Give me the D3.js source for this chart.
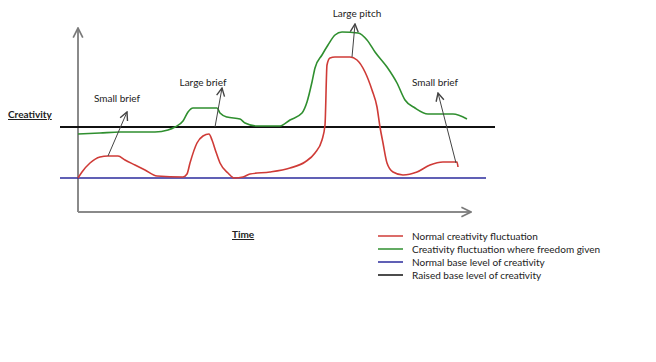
<!DOCTYPE html>
<html>
<head>
<meta charset="utf-8">
<script src="https://cdn.jsdelivr.net/npm/d3@7"></script>
<style>
  body { margin: 0; background: #fff; }
  svg { display: block; font-family: Lato, "Open Sans", sans-serif; }
</style>
</head>
<body>
<svg id="chart" width="656" height="362"></svg>
<script>
// time units along x, creativity units along y
const normalT = [0, 4, 12, 22, 30, 40, 47, 57, 67, 79, 105, 109, 112, 119, 125, 131, 134, 138, 142, 150, 156, 165, 172, 192, 212, 227, 237, 244, 247, 249, 252, 257, 272, 279, 287, 294, 299, 302, 305, 309, 315, 325, 339, 352, 365, 379, 380];
const normalC = [34, 40, 49, 55, 56, 56, 52, 47, 42, 36, 35, 38, 49, 69, 76, 78, 72, 60, 49, 39, 34, 35, 38, 40, 44, 50, 59, 72, 87, 147, 154, 155, 155, 152, 140, 122, 105, 85, 69, 49, 40, 37, 40, 47, 50, 50, 45];

const freedomT = [0, 22, 42, 77, 90, 97, 105, 110, 115, 139, 142, 149, 162, 167, 179, 202, 212, 224, 229, 234, 237, 244, 250, 257, 264, 280, 289, 297, 309, 319, 327, 337, 350, 375, 389];
const freedomC = [78, 79, 80, 80, 82, 85, 91, 100, 104, 104, 99, 95, 93, 89, 86, 86, 92, 99, 110, 130, 144, 157, 167, 177, 180, 179, 172, 160, 145, 129, 112, 104, 98, 98, 93];

const normalBase = 34;
const raisedBase = 85;

const notes = ["Small brief", "Large brief", "Large pitch", "Small brief"];
const noteTextT = [39, 125, 279, 357];
const noteTextC = [110, 126, 195, 126];
const noteFromT = [30, 137, 274, 378];
const noteFromC = [56, 85, 155, 49];
const noteToT = [49, 144, 277, 360];
const noteToC = [100, 124, 188, 119];

const legendLabels = [
  "Normal creativity fluctuation",
  "Creativity fluctuation where freedom given",
  "Normal base level of creativity",
  "Raised base level of creativity"
];
const legendColors = ["#cf3b37", "#2f8f2f", "#2b2b9c", "#111111"];

const svg = d3.select("#chart");
const x = d3.scaleLinear().domain([0, 400]).range([78, 478]);
const y = d3.scaleLinear().domain([0, 184]).range([212, 28]);

const defs = svg.append("defs");
function marker(id, color, size) {
  defs.append("marker")
    .attr("id", id)
    .attr("viewBox", "0 0 10 10")
    .attr("refX", 9).attr("refY", 5)
    .attr("markerWidth", size).attr("markerHeight", size)
    .attr("markerUnits", "userSpaceOnUse")
    .attr("orient", "auto")
    .append("path")
    .attr("d", "M1,1 L9,5 L1,9")
    .attr("fill", "none")
    .attr("stroke", color)
    .attr("stroke-width", 1.4);
}
marker("axis-arrow", "#7a7a7a", 12);
marker("note-arrow", "#444", 10);

// axes
svg.append("line")
  .attr("x1", x(0)).attr("y1", y(0)).attr("x2", x(0)).attr("y2", y(184))
  .attr("stroke", "#8a8a8a").attr("stroke-width", 2)
  .attr("marker-end", "url(#axis-arrow)");
svg.append("line")
  .attr("x1", x(0)).attr("y1", y(0)).attr("x2", x(393)).attr("y2", y(0))
  .attr("stroke", "#8a8a8a").attr("stroke-width", 2)
  .attr("marker-end", "url(#axis-arrow)");

// base levels
svg.append("line")
  .attr("x1", x(-18)).attr("x2", x(408))
  .attr("y1", y(normalBase)).attr("y2", y(normalBase))
  .attr("stroke", legendColors[2]).attr("stroke-width", 1.5);
svg.append("line")
  .attr("x1", x(-18)).attr("x2", x(417))
  .attr("y1", y(raisedBase)).attr("y2", y(raisedBase))
  .attr("stroke", legendColors[3]).attr("stroke-width", 2);

const line = d3.line()
  .x((d) => x(d[0]))
  .y((d) => y(d[1]))
  .curve(d3.curveMonotoneX);

svg.append("path")
  .datum(freedomT.map((t, i) => [t, freedomC[i]]))
  .attr("d", line)
  .attr("fill", "none")
  .attr("stroke", legendColors[1])
  .attr("stroke-width", 1.6);

svg.append("path")
  .datum(normalT.map((t, i) => [t, normalC[i]]))
  .attr("d", line)
  .attr("fill", "none")
  .attr("stroke", legendColors[0])
  .attr("stroke-width", 1.6);

// annotations
notes.forEach((label, i) => {
  svg.append("line")
    .attr("x1", x(noteFromT[i])).attr("y1", y(noteFromC[i]))
    .attr("x2", x(noteToT[i])).attr("y2", y(noteToC[i]))
    .attr("stroke", "#444").attr("stroke-width", 1)
    .attr("marker-end", "url(#note-arrow)");
  svg.append("text")
    .attr("x", x(noteTextT[i])).attr("y", y(noteTextC[i]))
    .attr("text-anchor", "middle")
    .attr("font-size", 10)
    .attr("fill", "#222")
    .text(label);
});

// axis titles
svg.append("text")
  .attr("x", 8).attr("y", 118)
  .attr("font-size", 10).attr("font-weight", "bold")
  .attr("text-decoration", "underline")
  .attr("fill", "#222")
  .text("Creativity");
svg.append("text")
  .attr("x", 232).attr("y", 238)
  .attr("font-size", 10).attr("font-weight", "bold")
  .attr("text-decoration", "underline")
  .attr("fill", "#222")
  .text("Time");

// legend
const legend = svg.append("g");
legendLabels.forEach((label, i) => {
  const cy = 236 + i * 13;
  legend.append("line")
    .attr("x1", 378).attr("x2", 403)
    .attr("y1", cy).attr("y2", cy)
    .attr("stroke", legendColors[i]).attr("stroke-width", 1.5);
  legend.append("text")
    .attr("x", 412).attr("y", cy + 3.5)
    .attr("font-size", 10)
    .attr("fill", "#222")
    .text(label);
});
</script>
</body>
</html>
